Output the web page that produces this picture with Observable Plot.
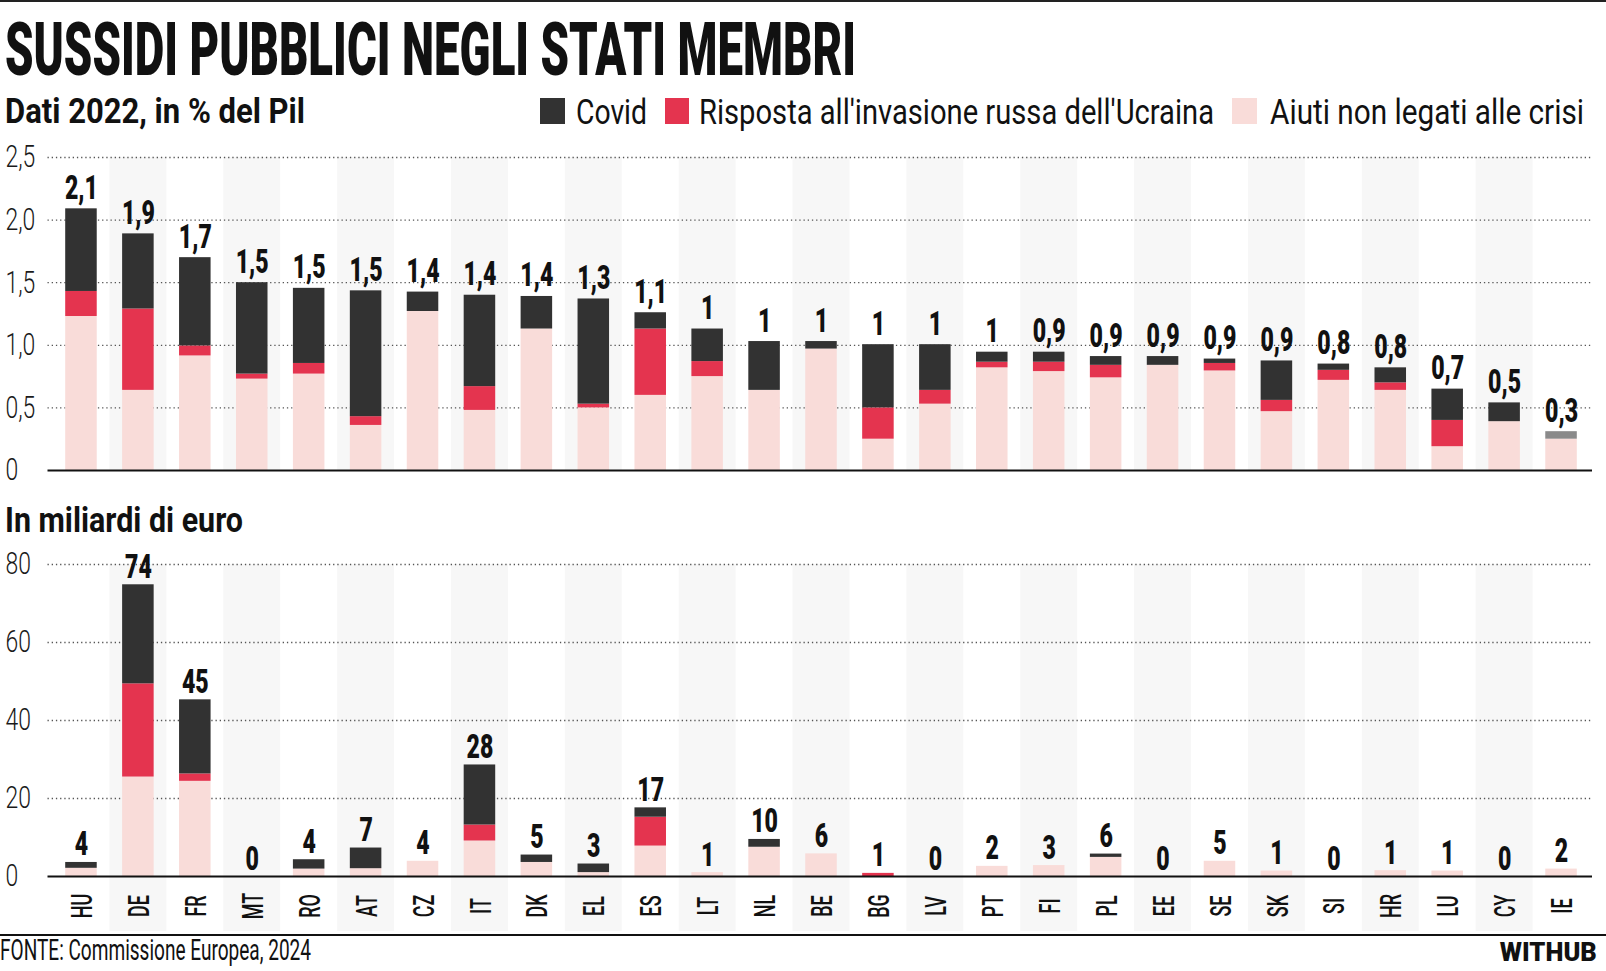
<!DOCTYPE html>
<html><head><meta charset="utf-8">
<script src="https://cdn.jsdelivr.net/npm/d3@7"></script>
<script src="https://cdn.jsdelivr.net/npm/@observablehq/plot@0.6"></script>
<style>
body{margin:0;background:#fff;}
#root{position:relative;width:1606px;height:971px;overflow:hidden;font-family:Roboto,"Noto Sans",sans-serif;color:#111;background:#fff;}
.t{position:absolute;white-space:nowrap;line-height:1;}
.sw{position:absolute;}
.hl{position:absolute;left:0;width:1606px;background:#111;}
</style></head><body><div id="root"></div>
<script>
// ---- data ----
const countries = ["HU","DE","FR","MT","RO","AT","CZ","IT","DK","EL","ES","LT","NL","BE","BG","LV","PT","FI","PL","EE","SE","SK","SI","HR","LU","CY","IE"];
const seriesNames = ["Aiuti non legati alle crisi","Risposta all'invasione russa dell'Ucraina","Covid","Altro"];
const seriesColors = ["#f9dcd9","#e4344f","#323232","#8a8a8a"];
const legendItems = ["Covid","Risposta all'invasione russa dell'Ucraina","Aiuti non legati alle crisi"];

// % del Pil
const pilLabels = ["2,1","1,9","1,7","1,5","1,5","1,5","1,4","1,4","1,4","1,3","1,1","1","1","1","1","1","1","0,9","0,9","0,9","0,9","0,9","0,8","0,8","0,7","0,5","0,3"];
const pilAiuti   = [1.23,0.64,0.915,0.73,0.77,0.36,1.27,0.48,1.13,0.50,0.60,0.75,0.64,0.97,0.25,0.53,0.82,0.79,0.74,0.84,0.795,0.47,0.72,0.64,0.19,0.39,0.25];
const pilUcraina = [0.20,0.65,0.08,0.04,0.085,0.07,0,0.19,0,0.03,0.53,0.12,0,0,0.25,0.11,0.045,0.075,0.10,0,0.06,0.09,0.08,0.06,0.21,0,0];
const pilCovid   = [0.66,0.60,0.705,0.73,0.60,1.005,0.155,0.73,0.26,0.84,0.13,0.26,0.39,0.06,0.505,0.365,0.08,0.08,0.07,0.07,0.035,0.315,0.05,0.12,0.25,0.15,0];
const pilAltro   = [0,0,0,0,0,0,0,0,0,0,0,0,0,0,0,0,0,0,0,0,0,0,0,0,0,0,0.06];
const pilTicks = [0,0.5,1,1.5,2,2.5];

// miliardi di euro
const eurLabels = ["4","74","45","0","4","7","4","28","5","3","17","1","10","6","1","0","2","3","6","0","5","1","0","1","1","0","2"];
const eurAiuti   = [2.1,25.5,24.4,0,1.9,2.0,3.9,9.1,3.6,1.0,7.8,1.0,7.5,5.8,0,0,2.6,2.8,4.9,0,3.9,1.4,0,1.5,1.4,0,1.9];
const eurUcraina = [0,23.9,1.9,0,0,0,0,4.1,0,0,7.4,0,0,0,0.8,0,0,0,0,0,0,0,0,0,0,0,0];
const eurCovid   = [1.5,25.4,19.0,0,2.4,5.3,0,15.4,1.9,2.2,2.4,0,2.0,0,0,0,0,0,0.85,0,0,0,0,0,0,0,0];
const eurAltro   = [0,0,0,0,0,0,0,0,0,0,0,0,0,0,0,0,0,0,0,0,0,0,0,0,0,0,0];
const eurTicks = [0,20,40,60,80];

// ---- helpers ----
const root = document.getElementById("root");
const colorOf = Object.fromEntries(seriesNames.map((s,i)=>[s,seriesColors[i]]));

function addText(txt, o){
  const el = document.createElement("div");
  el.className = "t"; el.textContent = txt;
  el.style.fontSize = o.fs + "px";
  el.style.fontWeight = o.weight || 400;
  el.style.color = o.color || "#111";
  el.style.top = o.top + "px";
  if (o.right != null){ el.style.right = o.right + "px"; el.style.transformOrigin = "100% 0"; }
  else { el.style.left = o.left + "px"; el.style.transformOrigin = "0 0"; }
  root.appendChild(el);
  const w = el.getBoundingClientRect().width;
  if (o.width && w > 0) el.style.transform = `scaleX(${o.width / w})`;
  return el;
}
function addBox(cls, left, top, w, h, color){
  const el = document.createElement("div");
  el.className = cls;
  Object.assign(el.style, {left:left+"px", top:top+"px", width:w+"px", height:h+"px", background:color});
  root.appendChild(el);
}
function condense(g, sx){
  if (!g) return;
  g.querySelectorAll("text").forEach(t=>{
    const tr = t.getAttribute("transform") || "";
    t.setAttribute("transform", tr + ` scale(${sx},1)`);
  });
}

function panel(o){
  const rows = [];
  countries.forEach((c,i)=>{
    o.series.forEach((arr,s)=>rows.push({country:c, serie:seriesNames[s], value:arr[i]}));
  });
  const totals = countries.map((c,i)=>({country:c, total:o.series.reduce((a,arr)=>a+arr[i],0), label:o.labels[i]}));
  const stripes = countries.filter((d,i)=>i%2===1);
  const marks = [
    Plot.cell(stripes, {x:d=>d, fill:"#f7f7f7", insetBottom:-o.stripeExtend}),
    Plot.ruleY(o.ticks.filter(d=>d>0), {stroke:"#555", strokeWidth:1.3, strokeDasharray:"1.3,2.9", insetLeft:-5, insetRight:-2.5}),
    Plot.barY(rows, {x:"country", y:"value", fill:"serie", insetLeft:12.7, insetRight:12.7}),
    Plot.ruleY([0], {stroke:"#111", strokeWidth:2, insetLeft:-5, insetRight:-2.5}),
    Plot.text(o.ticks, {y:d=>d, text:o.fmt, frameAnchor:"left", textAnchor:"start", lineAnchor:"middle", dx:5-52.5, fontSize:31, fontWeight:300, fill:"#1a1a1a"}),
    Plot.text(totals, {x:"country", y:"total", text:"label", lineAnchor:"bottom", dy:o.labelDy, fontSize:34, fontWeight:900, fill:"#111"})
  ];
  if (o.showX) marks.push(Plot.text(countries, {x:d=>d, frameAnchor:"bottom", rotate:-90, textAnchor:"middle", lineAnchor:"middle", dy:o.xDy, dx:1, fontSize:30, fontWeight:500, fill:"#111"}));
  const svg = Plot.plot({
    width:1606, height:o.height, marginLeft:52.5, marginRight:16.5, marginTop:o.marginTop, marginBottom:o.marginBottom,
    x:{type:"band", domain:countries, padding:0, round:false, axis:null},
    y:{domain:[0, o.ticks[o.ticks.length-1]], axis:null},
    color:{domain:seriesNames, range:seriesColors},
    style:{fontFamily:"Roboto, sans-serif", background:"transparent", overflow:"visible"},
    marks
  });
  const tg = svg.querySelectorAll('g[aria-label="text"]');
  condense(tg[0], 0.74);
  condense(tg[1], 0.68);
  condense(tg[2], 0.6);
  svg.style.position = "absolute";
  svg.style.left = "0px";
  svg.style.top = o.top + "px";
  root.appendChild(svg);
}

function draw(){
  addBox("hl", 0, 0, 1606, 2, "#222");
  addText("SUSSIDI PUBBLICI NEGLI STATI MEMBRI", {left:5, top:13, fs:74, weight:900, width:851});
  addText("Dati 2022, in % del Pil", {left:5, top:93.5, fs:35, weight:700, width:300});
  const legendPos = [{sq:540, tx:576, w:71}, {sq:664.6, tx:699, w:515}, {sq:1232, tx:1270, w:314}];
  legendItems.forEach((name,i)=>{
    const p = legendPos[i];
    addBox("sw", p.sq, 98, 24.5, 26, colorOf[name]);
    addText(name, {left:p.tx, top:94.5, fs:35, weight:400, width:p.w});
  });

  panel({series:[pilAiuti,pilUcraina,pilCovid,pilAltro], labels:pilLabels, ticks:pilTicks,
    fmt:d=>d===0?"0":d.toFixed(1).replace(".",","),
    top:140, height:340, marginTop:17, marginBottom:10, labelDy:-10, stripeExtend:0, showX:false});

  addText("In miliardi di euro", {left:5, top:503, fs:35, weight:700, width:238});

  panel({series:[eurAiuti,eurUcraina,eurCovid,eurAltro], labels:eurLabels, ticks:eurTicks,
    fmt:d=>String(d),
    top:540, height:395, marginTop:24, marginBottom:59, labelDy:-7, stripeExtend:55, showX:true, xDy:29.5});

  addBox("hl", 0, 934, 1606, 2, "#111");
  addText("FONTE: Commissione Europea, 2024", {left:0, top:935.6, fs:29, weight:400, width:311});
  addText("WITHUB", {right:9, top:938.5, fs:26, weight:900, width:97});
}
(document.fonts && document.fonts.ready ? document.fonts.ready : Promise.resolve()).then(draw);
</script>
</body></html>
